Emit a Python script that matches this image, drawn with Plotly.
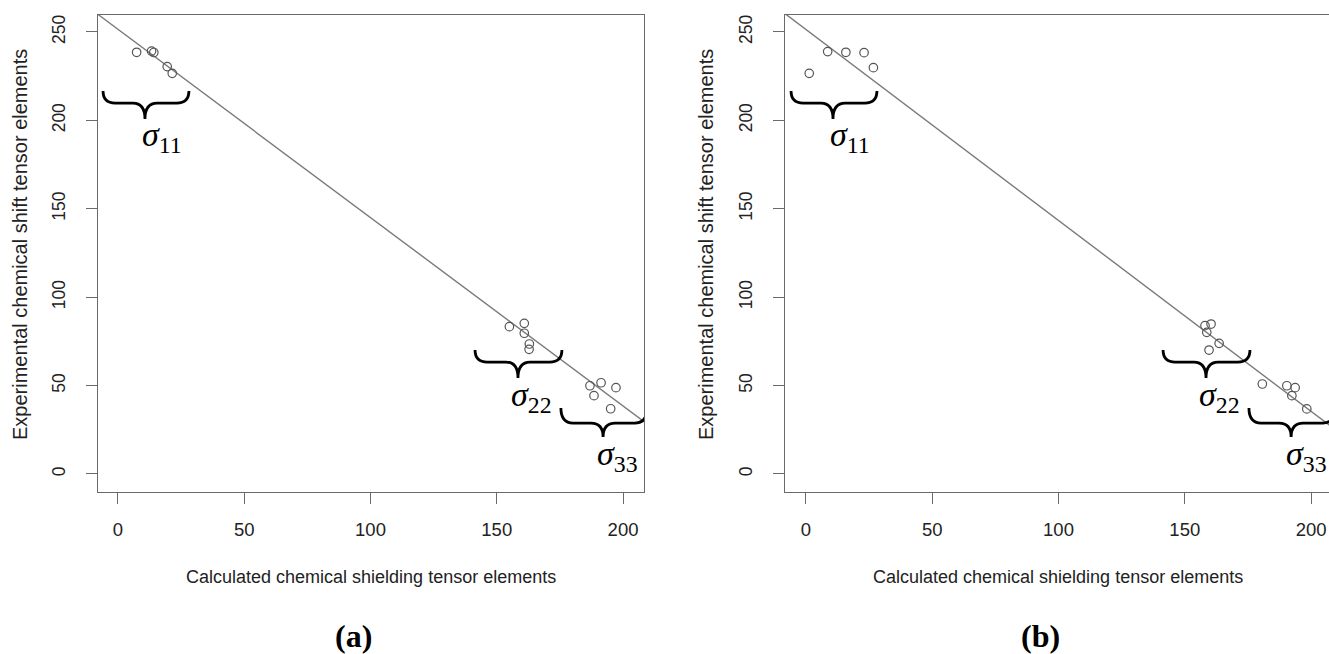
import plotly.graph_objects as go

# ---------------- data ----------------
# panel (a)
a_calc_11 = [7.4, 13.3, 14.2, 19.5, 21.5]
a_exp_11 = [238.5, 239.2, 238.4, 230.4, 226.6]
a_calc_22 = [155.0, 160.9, 160.9, 162.9, 162.8]
a_exp_22 = [83.3, 85.2, 79.6, 73.5, 70.5]
a_calc_33 = [186.9, 191.3, 188.5, 197.2, 195.1]
a_exp_33 = [49.9, 51.6, 44.3, 48.8, 36.9]
a_intercept, a_slope = 251.5, -1.065

# panel (b)
b_calc_11 = [1.3, 8.6, 15.8, 23.0, 26.7]
b_exp_11 = [226.6, 238.9, 238.5, 238.3, 229.8]
b_calc_22 = [158.0, 160.4, 158.7, 163.6, 159.6]
b_exp_22 = [83.9, 84.8, 80.1, 73.9, 70.1]
b_calc_33 = [180.7, 190.4, 193.7, 192.4, 198.3]
b_exp_33 = [50.9, 49.9, 48.8, 44.3, 36.8]
b_intercept, b_slope = 251.4, -1.08

tick_vals = [0, 50, 100, 150, 200, 250]
tick_text = ["0", "50", "100", "150", "200", "250"]
x_title = "Calculated chemical shielding tensor elements"
y_title = "Experimental chemical shift tensor elements"
panel_labels = ["(a)", "(b)"]
group_labels = ["11", "22", "33"]

# ---------------- layout constants ----------------
W, H = 1329, 654
XR_A = [-7.9, 208.3]
XR_B = [-8.3, 207.1]
YR = [-10.2, 259.6]
dom_a = [98 / W, 644 / W]
dom_b = [785 / W, 1.0]
dom_y = [1 - 492 / H, 1 - 15 / H]

GRAY = "#6a6a6a"
TXT = "#222222"
SANS = "Liberation Sans, Arial"

fig = go.Figure()


def add_panel(xa, ya, calc_groups, exp_groups, intercept, slope, xr):
    xs = []
    ys = []
    for c, e in zip(calc_groups, exp_groups):
        xs += c
        ys += e
    lx = [xr[0] - 5, xr[1] + 5]
    ly = [intercept + slope * v for v in lx]
    fig.add_trace(go.Scatter(x=lx, y=ly, mode="lines", xaxis=xa, yaxis=ya,
                             line=dict(color="#7a7a7a", width=1.4),
                             hoverinfo="skip", showlegend=False))
    fig.add_trace(go.Scatter(x=xs, y=ys, mode="markers", xaxis=xa, yaxis=ya,
                             marker=dict(symbol="circle-open", size=8.5,
                                         color="#555555", line=dict(width=1.2)),
                             showlegend=False))


add_panel("x", "y", [a_calc_11, a_calc_22, a_calc_33],
          [a_exp_11, a_exp_22, a_exp_33], a_intercept, a_slope, XR_A)
add_panel("x2", "y2", [b_calc_11, b_calc_22, b_calc_33],
          [b_exp_11, b_exp_22, b_exp_33], b_intercept, b_slope, XR_B)

axis_common = dict(
    showgrid=False, zeroline=False, showline=True, linecolor=GRAY,
    linewidth=1.2, ticks="outside", ticklen=11, tickwidth=1.2,
    tickcolor=GRAY, tickmode="array", tickvals=tick_vals, ticktext=tick_text,
)
xtf = dict(family=SANS, size=18.5, color=TXT)
ytf = dict(family=SANS, size=17.5, color=TXT)

fig.update_layout(
    width=W, height=H, margin=dict(l=0, r=0, t=0, b=0),
    paper_bgcolor="white", plot_bgcolor="white",
    xaxis=dict(axis_common, domain=dom_a, range=XR_A, anchor="y",
               mirror=True, ticklabelstandoff=10, tickfont=xtf),
    yaxis=dict(axis_common, domain=dom_y, range=YR, anchor="x",
               mirror=True, tickangle=-90, ticklabelstandoff=14, tickfont=ytf),
    xaxis2=dict(axis_common, domain=dom_b, range=XR_B, anchor="y2",
                mirror=True, ticklabelstandoff=10, tickfont=xtf),
    yaxis2=dict(axis_common, domain=dom_y, range=YR, anchor="x2",
                mirror=False, tickangle=-90, ticklabelstandoff=14, tickfont=ytf),
)


# ---------------- braces (annotation shapes) ----------------
def brace(xref, yref, x0, x1, xc, yt, yh, yc, r=4.8):
    p = (f"M {x0},{yt} Q {x0},{yh} {x0 + r},{yh} L {xc - r},{yh} "
         f"Q {xc},{yh} {xc},{yc} Q {xc},{yh} {xc + r},{yh} "
         f"L {x1 - r},{yh} Q {x1},{yh} {x1},{yt}")
    fig.add_shape(type="path", path=p, xref=xref, yref=yref,
                  line=dict(color="black", width=2.8), layer="above")


brace_specs = [
    # x0, x1, xc, y_tip, y_horizontal, y_cusp
    (-5.9, 28.1, 10.7, 216.6, 209.8, 200.8),
    (141.4, 175.8, 158.4, 70.1, 63.3, 54.3),
    (175.4, 209.5, 192.1, 37.3, 28.8, 20.9),
]
label_pos = [(17.4, 190.6), (163.6, 43.6), (198.0, 10.2)]

for xr_, yr_ in [("x", "y"), ("x2", "y2")]:
    for spec, lab, (tx, ty) in zip(brace_specs, group_labels, label_pos):
        brace(xr_, yr_, *spec)
        fig.add_annotation(x=tx, y=ty, xref=xr_, yref=yr_, showarrow=False,
                           text=f"<i>σ</i><sub>{lab}</sub>",
                           font=dict(family="Liberation Serif", size=34,
                                     color="black"),
                           xanchor="center", yanchor="middle")

# ---------------- titles and panel labels ----------------
panels = [(dom_a[0], 644 / W, panel_labels[0], 20, 353),
          (dom_b[0], 1331 / W, panel_labels[1], 706, 1040)]
for left, right, lab, ytx, labx in panels:
    cx = (left + right) / 2
    fig.add_annotation(x=cx, y=1 - 577 / H, xref="paper", yref="paper",
                       text=x_title, showarrow=False,
                       font=dict(family=SANS, size=18, color=TXT),
                       xanchor="center", yanchor="middle")
    fig.add_annotation(x=ytx / W, y=1 - 245 / H, xref="paper", yref="paper",
                       text=y_title, showarrow=False, textangle=-90,
                       font=dict(family=SANS, size=20, color=TXT),
                       xanchor="center", yanchor="middle")
    fig.add_annotation(x=labx / W, y=1 - 636 / H,
                       xref="paper", yref="paper", text=f"<b>{lab}</b>",
                       showarrow=False,
                       font=dict(family="Liberation Serif", size=32,
                                 color="black"),
                       xanchor="center", yanchor="middle")

fig.write_html("out.html",
               config={"displayModeBar": False},
               post_script="document.body.style.margin='0';"
                           "document.body.style.overflow='hidden';")
